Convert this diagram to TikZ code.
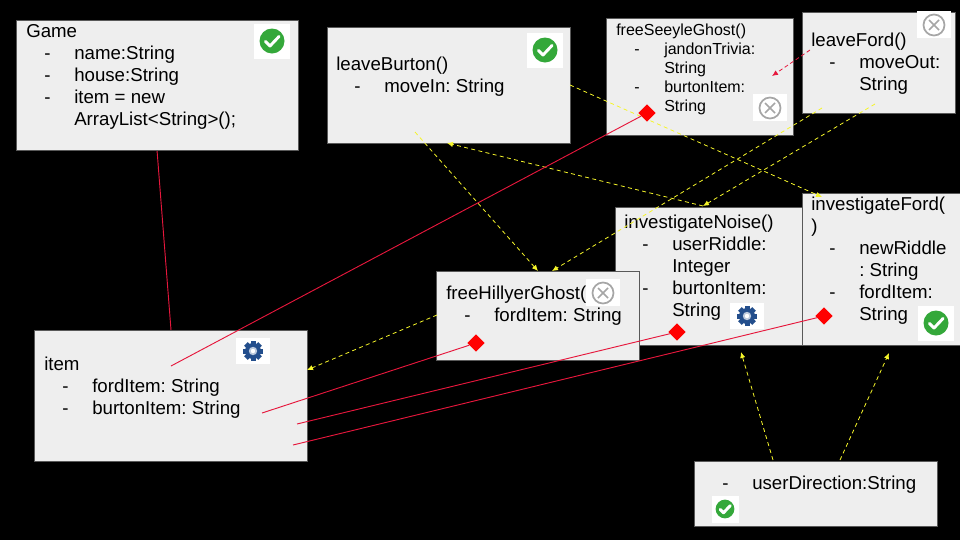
\documentclass[tikz,border=0pt]{standalone}
\usepackage{fontspec}
\setmainfont{Liberation Sans}
\frenchspacing
\usetikzlibrary{shapes.geometric,arrows.meta}
\definecolor{boxfill}{HTML}{EEEEEE}
\definecolor{boxline}{HTML}{595959}
\definecolor{okgreen}{HTML}{34A83A}
\definecolor{xgray}{HTML}{A6A6A6}
\definecolor{gearblue}{HTML}{234E8C}
\definecolor{redline}{HTML}{E6173C}
\definecolor{yel}{HTML}{F5F52A}
\newlength{\pxu}\setlength{\pxu}{0.75pt}
\newcommand{\dd}[1]{\hspace*{18\pxu}\makebox[30\pxu][l]{-}#1}
\newcommand{\cc}[1]{\hspace*{48\pxu}#1}
\newcommand{\bigtxt}{\fontsize{14pt}{16.5pt}\selectfont}
\newcommand{\smalltxt}{\fontsize{12pt}{14.25pt}\selectfont}
\tikzset{
  x=0.75pt,y=-0.75pt,
  umlbox/.style={draw=boxline,line width=0.7pt,fill=boxfill,inner sep=0pt},
  lbl/.style={anchor=north west,inner sep=0pt,align=left,text=black,font=\bigtxt},
  lblsmall/.style={lbl,font=\smalltxt},
  yarrow/.style={draw=yel,line width=0.6pt,dash pattern=on 3pt off 2.5pt,-{Latex[length=4.5pt,width=4pt,fill=yel]}},
  rarrow/.style={draw=redline,line width=0.6pt,dash pattern=on 3pt off 2pt,-{Latex[length=4.5pt,width=4pt,fill=redline]}},
  rline/.style={draw=redline,line width=0.7pt},
  dia/.style={diamond,fill=red,minimum size=13pt,inner sep=0pt},
}
\newcommand{\mkbox}[5]{\node[umlbox,minimum width=#4*0.75pt,minimum height=#5*0.75pt,anchor=north west] (#1) at (#2,#3) {};}
\newcommand{\iconok}[3]{\begin{scope}[shift={(#1,#2)},scale=#3]
  \fill[white] (-18,-17) rectangle (18,18);
  \fill[okgreen] (0,0) circle (12.5);
  \draw[white,line width=2.2pt,line cap=round,line join=round] (-6.5,0.5) -- (-2,5) -- (7,-4.5);
\end{scope}}
\newcommand{\iconx}[2]{\begin{scope}[shift={(#1,#2)}]
  \fill[white] (-17,-14) rectangle (17,13);
  \draw[xgray,line width=1.3pt] (0,0) circle (10.5);
  \draw[xgray,line width=1.1pt] (-5,-5) -- (5,5) (-5,5) -- (5,-5);
\end{scope}}
\newcommand{\icongear}[2]{\begin{scope}[shift={(#1,#2)}]
  \fill[white] (-17,-13) rectangle (17,13);
  \foreach \a in {0,45,...,315}{\fill[gearblue,rotate=\a] (-2.5,-10) rectangle (2.5,0);}
  \fill[gearblue] (0,0) circle (8);
  \fill[white!70!gearblue] (0,0) circle (4.2);
  \fill[white] (0,0) circle (2.2);
\end{scope}}
\begin{document}
\begin{tikzpicture}
\fill[black] (0,0) rectangle (960,540);
\useasboundingbox (0,0) rectangle (960,540);
% free ends
\coordinate (gameOut) at (157,150);
\coordinate (itemIn) at (171,330);
\coordinate (r1s) at (171,366);
\coordinate (r2s) at (262,413);
\coordinate (r3s) at (297,424);
\coordinate (r4s) at (293,445);
% connector under boxes
\draw[rline] (gameOut) -- (itemIn);
% boxes
\mkbox{game}{16}{20}{282}{130}
\mkbox{burton}{327}{27}{243}{116}
\mkbox{seeyle}{606}{18}{187}{117}
\mkbox{ford}{802}{12}{153}{101}
\mkbox{noise}{615}{207}{188}{138}
\mkbox{hillyer}{436}{271}{203}{89}
\mkbox{invford}{802}{193}{170}{152}
\mkbox{item}{34}{330}{273}{131}
\mkbox{direction}{694}{461}{243}{65}
% labels
\node[lbl] (tgame) at (26,24) {Game\\\dd{name:String}\\\dd{house:String}\\\dd{item = new}\\\cc{ArrayList<String>();}};
\node[lbl] (tburton) at (336,57) {leaveBurton()\\\dd{moveIn: String}};
\node[lblsmall] (tseeyle) at (616,24) {freeSeeyleGhost()\\\dd{jandonTrivia:}\\\cc{String}\\\dd{burtonItem:}\\\cc{String}};
\node[lbl] (tford) at (811,33) {leaveFord()\\\dd{moveOut:}\\\cc{String}};
\node[lbl] (tnoise) at (624,215) {investigateNoise()\\\dd{userRiddle:}\\\cc{Integer}\\\dd{burtonItem:}\\\cc{String}};
\node[lbl] (thillyer) at (446,286) {freeHillyerGhost(\\\dd{fordItem: String}};
\node[lbl] (tinvford) at (811,197) {investigateFord(\\)\\\dd{newRiddle}\\\cc{: String}\\\dd{fordItem:}\\\cc{String}};
\node[lbl] (titem) at (44,357) {item\\\dd{fordItem: String}\\\dd{burtonItem: String}};
\node[lbl] (tdir) at (704,476) {\dd{userDirection:String}};
% icons
\iconok{272}{41}{1}
\iconok{545}{50}{1}
\iconok{936}{323}{1}
\iconok{725}{509}{0.75}
\iconx{770}{108}
\iconx{934}{25}
\iconx{603}{293}
\icongear{747}{316}
\icongear{253}{351}
% yellow dashed
\coordinate (y1s) at (570,85);   \coordinate (y1e) at (822,197);
\coordinate (y2s) at (822,108);  \coordinate (y2e) at (552,271);
\coordinate (y3s) at (875,104);  \coordinate (y3e) at (703,206);
\coordinate (y4s) at (703,206);  \coordinate (y4e) at (447,143);
\coordinate (y5s) at (415,132);  \coordinate (y5e) at (538,271);
\coordinate (y6s) at (437,315);  \coordinate (y6e) at (307,370);
\coordinate (y7s) at (773,460);  \coordinate (y7e) at (741,352);
\coordinate (y8s) at (840,460);  \coordinate (y8e) at (889,353);
\draw[yarrow] (y1s) -- (y1e);
\draw[yarrow] (y2s) -- (y2e);
\draw[yarrow] (y3s) -- (y3e);
\draw[yarrow] (y4s) -- (y4e);
\draw[yarrow] (y5s) -- (y5e);
\draw[yarrow] (y6s) -- (y6e);
\draw[yarrow] (y7s) -- (y7e);
\draw[yarrow] (y8s) -- (y8e);
\coordinate (rds) at (810,50); \coordinate (rde) at (772,76);
\draw[rarrow] (rds) -- (rde);
% diamonds and red lines
\node[dia] (d1) at (647,113) {};
\node[dia] (d2) at (476,343) {};
\node[dia] (d3) at (677,332) {};
\node[dia] (d4) at (824,316) {};
\draw[rline] (r1s) -- (d1);
\draw[rline] (r2s) -- (d2);
\draw[rline] (r3s) -- (d3);
\draw[rline] (r4s) -- (d4);
\end{tikzpicture}
\end{document}
